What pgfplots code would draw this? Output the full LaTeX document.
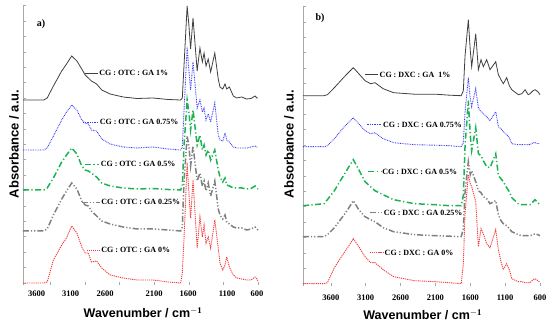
\documentclass[border=0pt]{standalone}
\usepackage{fontspec}
\setmainfont{Liberation Serif}
\setsansfont{Liberation Sans}
\usepackage{pgfplots}
\pgfplotsset{compat=1.18}
\definecolor{cblack}{HTML}{404040}
\definecolor{cblue}{HTML}{3A3AF5}
\definecolor{cgreen}{HTML}{1DB354}
\definecolor{cgray}{HTML}{808080}
\definecolor{cred}{HTML}{F53B3B}
\definecolor{axgray}{HTML}{A8A8A8}
\tikzset{
 s1/.style={cblack, line width=0.8pt},
 s2/.style={cblue, line width=0.9pt, dash pattern=on 0.8pt off 0.9pt},
 s3/.style={cgreen, line width=1.5pt, dash pattern=on 6pt off 2.5pt on 1.2pt off 2.5pt},
 s4/.style={cgray, line width=1.5pt, dash pattern=on 6pt off 2pt on 1.2pt off 2pt on 1.2pt off 2pt},
 s5/.style={cred, line width=0.9pt, dash pattern=on 1.2pt off 0.9pt},
 lbl/.style={anchor=west, inner sep=1pt, text=black, font=\fontsize{8}{9}\selectfont\bfseries},
}
\pgfplotsset{
 panel/.style={
   scale only axis, height=280pt,
   x dir=reverse, xmin=600, xmax=4000, ymin=-2, ymax=278,
   axis line style={draw=none},
   clip=false,
   xtick={600,1100,1600,2100,2600,3100,3600},
   xtick pos=bottom, ytick pos=left,
   ytick={0,15.4,...,277}, yticklabels={},
   major tick length=3pt,
   xtick style={axgray, line width=0.6pt},
   ytick style={axgray, line width=0.6pt},
   xticklabel style={font=\fontsize{8.5}{9}\selectfont\bfseries},
 },
}
\begin{document}
\begin{tikzpicture}
\useasboundingbox (0,0) rectangle (550pt,326pt);
% ---------------- panel a ----------------
\begin{axis}[panel, at={(23pt,41pt)}, anchor=south west, width=235pt,
  xticklabels={},
  extra x ticks={614,1048,1612,2104,2813,3310,3802},
  extra x tick labels={600,1100,1600,2100,2600,3100,3600},
  extra x tick style={major tick length=0pt, xticklabel style={yshift=-2pt}},
]
\draw[axgray, line width=0.7pt] (axis cs:4000,-2) -- (axis cs:4000,278);
% 1%
\addplot[s1] coordinates {(4000,183) (3700,183) (3650,185) (3560,197) (3440,212) (3370,219) (3295,227) (3220,222) (3150,214) (3100,208) (3055,205) (3010,202) (2935,199) (2860,193) (2740,189) (2550,186) (2350,184.5) (2120,185) (1900,183.5) (1720,183) (1695,185) (1670,218) (1625,277) (1600,258) (1575,234) (1540,265) (1480,212) (1440,235) (1405,221) (1380,230) (1352,217) (1320,224) (1285,211) (1225,230) (1175,204) (1150,196) (1110,194) (1077,199) (1053,194) (1014,196) (957,187) (908,185) (836,186) (764,184) (700,184.5) (643,187) (615,185) (600,185)};
% 0.75%
\addplot[s2] coordinates {(4000,133) (3700,133) (3650,135) (3560,147) (3440,163) (3370,171) (3295,178) (3220,173) (3150,163) (3100,160) (3055,159) (3010,153) (2935,152) (2860,144) (2740,139) (2550,136) (2350,135) (2120,136) (1900,134) (1720,133) (1695,136) (1670,173) (1625,236) (1600,213) (1575,193) (1540,221) (1480,175) (1440,183) (1405,171) (1380,175) (1352,163) (1320,169) (1285,161) (1225,180) (1175,148) (1150,143) (1110,142) (1077,150) (1053,143) (1014,141) (957,136) (908,135) (836,135) (764,135) (700,136) (643,137) (615,136) (600,136)};
% 0.5%
\addplot[s3] coordinates {(4000,93) (3700,93) (3650,95) (3560,105) (3440,121) (3370,128) (3295,135) (3220,129) (3150,117) (3100,113) (3055,112) (3010,110) (2935,106) (2860,100) (2740,97) (2550,95) (2350,94) (2120,94.5) (1900,93.5) (1720,93) (1695,97) (1670,138) (1625,183) (1600,171) (1575,153) (1540,173) (1480,138) (1440,148) (1405,133) (1380,138) (1352,128) (1320,133) (1285,123) (1225,133) (1175,113) (1150,106) (1110,101) (1077,105) (1053,98) (1014,97) (957,95) (908,95) (836,95) (764,94) (700,94.5) (643,97) (615,95) (600,94)};
% 0.25%
\addplot[s4] coordinates {(4000,52) (3700,52) (3650,54) (3560,68) (3440,84) (3370,92) (3295,100) (3220,94) (3150,82) (3100,78) (3055,77) (3010,72) (2935,67) (2860,62) (2740,59) (2550,56) (2350,54) (2120,54) (1900,53) (1720,52) (1695,56) (1670,102) (1625,147) (1600,137) (1575,117) (1540,137) (1480,102) (1440,110) (1405,97) (1380,102) (1352,92) (1320,100) (1285,87) (1225,102) (1175,74) (1150,68) (1110,64) (1077,68) (1053,61) (1014,59) (957,56) (908,55) (836,55) (764,53) (700,54) (643,56) (615,54) (600,53)};
% 0%
\addplot[s5] coordinates {(4000,0) (3700,0) (3650,1) (3560,23) (3440,38) (3370,45) (3295,57) (3220,50) (3150,36) (3100,30) (3055,30) (3010,21) (2935,22) (2860,15) (2740,8) (2550,5) (2350,3) (2120,3) (1900,1) (1720,0) (1695,10) (1670,45) (1625,120) (1600,90) (1575,65) (1540,103) (1480,35) (1440,66) (1405,46) (1380,58) (1352,40) (1320,46) (1285,35) (1225,63) (1175,35) (1150,20) (1110,13) (1077,18) (1053,26) (1014,16) (957,8) (908,5) (836,4) (764,3) (700,3) (643,6) (615,4) (600,2)};
\draw[s1] (axis cs:3103,210) -- (axis cs:2915,210) node[lbl] {CG : OTC : GA 1\%};
\draw[s2] (axis cs:3127,161) -- (axis cs:2910,161) node[lbl] {CG : OTC : GA 0.75\%};
\draw[s3, line width=0.9pt] (axis cs:3103,119) -- (axis cs:2896,119) node[lbl] {CG : OTC : GA 0.5\%};
\draw[s4, line width=0.9pt] (axis cs:3151,81) -- (axis cs:2886,81) node[lbl] {CG : OTC : GA 0.25\%};
\draw[s5] (axis cs:3078,33) -- (axis cs:2886,33) node[lbl] {CG : OTC : GA 0\%};
\end{axis}
% ---------------- panel b ----------------
\begin{axis}[panel, at={(303pt,40.3pt)}, anchor=south west, width=237pt,
  xticklabels={600,1100,1600,2100,2600,3100,3600},
  xticklabel style={yshift=-6pt},
]
\draw[axgray, line width=0.7pt] (axis cs:4000,-2) -- (axis cs:4000,278);
% 1%
\addplot[s1] coordinates {(4000,188) (3700,188) (3650,189) (3550,196) (3420,206) (3350,211) (3278,216) (3200,210) (3110,203) (3030,200) (2967,201) (2850,195) (2700,191) (2400,189.5) (2100,189.5) (1900,188.5) (1730,188) (1700,193) (1675,228) (1628,264) (1600,233) (1580,217) (1522,250) (1484,214) (1446,224) (1413,217) (1365,224) (1317,214) (1235,222) (1197,209) (1160,204) (1126,200) (1078,206) (1040,198) (1005,194) (910,189) (860,190) (814,194) (770,189) (743,190) (700,193) (671,194) (630,192) (600,189)};
% 0.75%
\addplot[s2] coordinates {(4000,137) (3700,137) (3650,138) (3550,145) (3420,156) (3350,161) (3278,166) (3200,160) (3110,153) (3030,150) (2967,151) (2850,145) (2700,141) (2400,139) (2100,138.5) (1900,138) (1730,137) (1700,141) (1675,172) (1628,206) (1600,185) (1580,177) (1522,195) (1484,176) (1446,172) (1413,170) (1365,167) (1317,163) (1235,172) (1197,157) (1160,155) (1126,152) (1078,149) (1040,146) (1005,140) (910,139) (860,139) (814,139) (770,139) (743,139) (700,141) (671,141) (630,140) (600,140)};
% 0.5%
\addplot[s3] coordinates {(4000,78) (3700,80) (3650,84) (3550,93) (3420,108) (3350,116) (3278,124) (3200,114) (3110,102) (3030,97) (2967,93) (2850,89) (2700,84) (2400,80) (2100,79) (1900,78) (1730,78) (1700,88) (1675,138) (1628,183) (1600,148) (1580,133) (1522,156) (1484,130) (1446,128) (1413,123) (1365,117) (1317,116) (1235,130) (1197,108) (1160,105) (1126,102) (1078,96) (1040,92) (1005,86) (910,80) (860,79) (814,79) (770,79) (743,79) (700,82) (671,84) (630,81) (600,79)};
% 0.25%
\addplot[s4] coordinates {(4000,47) (3700,47) (3650,49) (3550,56) (3420,68) (3350,75) (3278,83) (3200,74) (3110,67) (3030,64) (2967,62) (2850,56) (2700,52) (2400,49) (2100,48) (1900,47.5) (1730,47) (1700,55) (1675,92) (1628,122) (1600,109) (1580,113) (1522,102) (1484,93) (1446,91) (1413,87) (1365,85) (1317,80) (1235,83) (1197,69) (1160,63) (1126,60) (1078,58) (1040,55) (1005,52) (910,49) (860,48) (814,48) (770,48) (743,48) (700,49) (671,50) (630,49) (600,48)};
% 0%
\addplot[s5] coordinates {(4000,0) (3700,0) (3650,1) (3550,16) (3420,30) (3350,37) (3278,45) (3200,37) (3110,27) (3030,21) (2967,21) (2850,14) (2700,7) (2400,3) (2100,2) (1900,1) (1730,0) (1700,20) (1675,70) (1628,109) (1600,100) (1580,97) (1522,82) (1484,37) (1446,55) (1413,50) (1365,40) (1317,36) (1235,54) (1197,34) (1160,22) (1126,14) (1078,20) (1040,14) (1005,5) (910,2) (860,2) (814,1) (770,1) (743,1) (700,4) (671,5) (630,3) (600,1)};
\draw[s1] (axis cs:3110,209) -- (axis cs:2919,209) node[lbl] {CG : DXC : GA\ \ 1\%};
\draw[s2] (axis cs:3086,159) -- (axis cs:2871,159) node[lbl] {CG : DXC : GA 0.75\%};
\draw[s3, line width=0.9pt] (axis cs:3063,112) -- (axis cs:2881,112) node[lbl] {CG : DXC : GA 0.5\%};
\draw[s4, line width=0.9pt] (axis cs:3039,71) -- (axis cs:2862,71) node[lbl] {CG : DXC : GA 0.25\%};
\draw[s5] (axis cs:3039,31) -- (axis cs:2848,31) node[lbl] {CG : DXC : GA 0\%};
\end{axis}
% ---------------- labels ----------------
\node[rotate=90, font=\sffamily\bfseries\fontsize{13}{15}\selectfont] at (14pt,182pt) {Absorbance / a.u.};
\node[rotate=90, font=\sffamily\bfseries\fontsize{13}{15}\selectfont] at (289pt,182pt) {Absorbance / a.u.};
\node[font=\sffamily\bfseries\fontsize{12.5}{15}\selectfont] at (143pt,13pt) {Wavenumber / cm$^{\mathbf{-1}}$};
\node[font=\sffamily\bfseries\fontsize{12.5}{15}\selectfont] at (422.7pt,11.3pt) {Wavenumber / cm$^{\mathbf{-1}}$};
\node[font=\bfseries\fontsize{10}{12}\selectfont] at (41pt,302pt) {a)};
\node[font=\bfseries\fontsize{10}{12}\selectfont] at (320pt,307.7pt) {b)};
\end{tikzpicture}
\end{document}
